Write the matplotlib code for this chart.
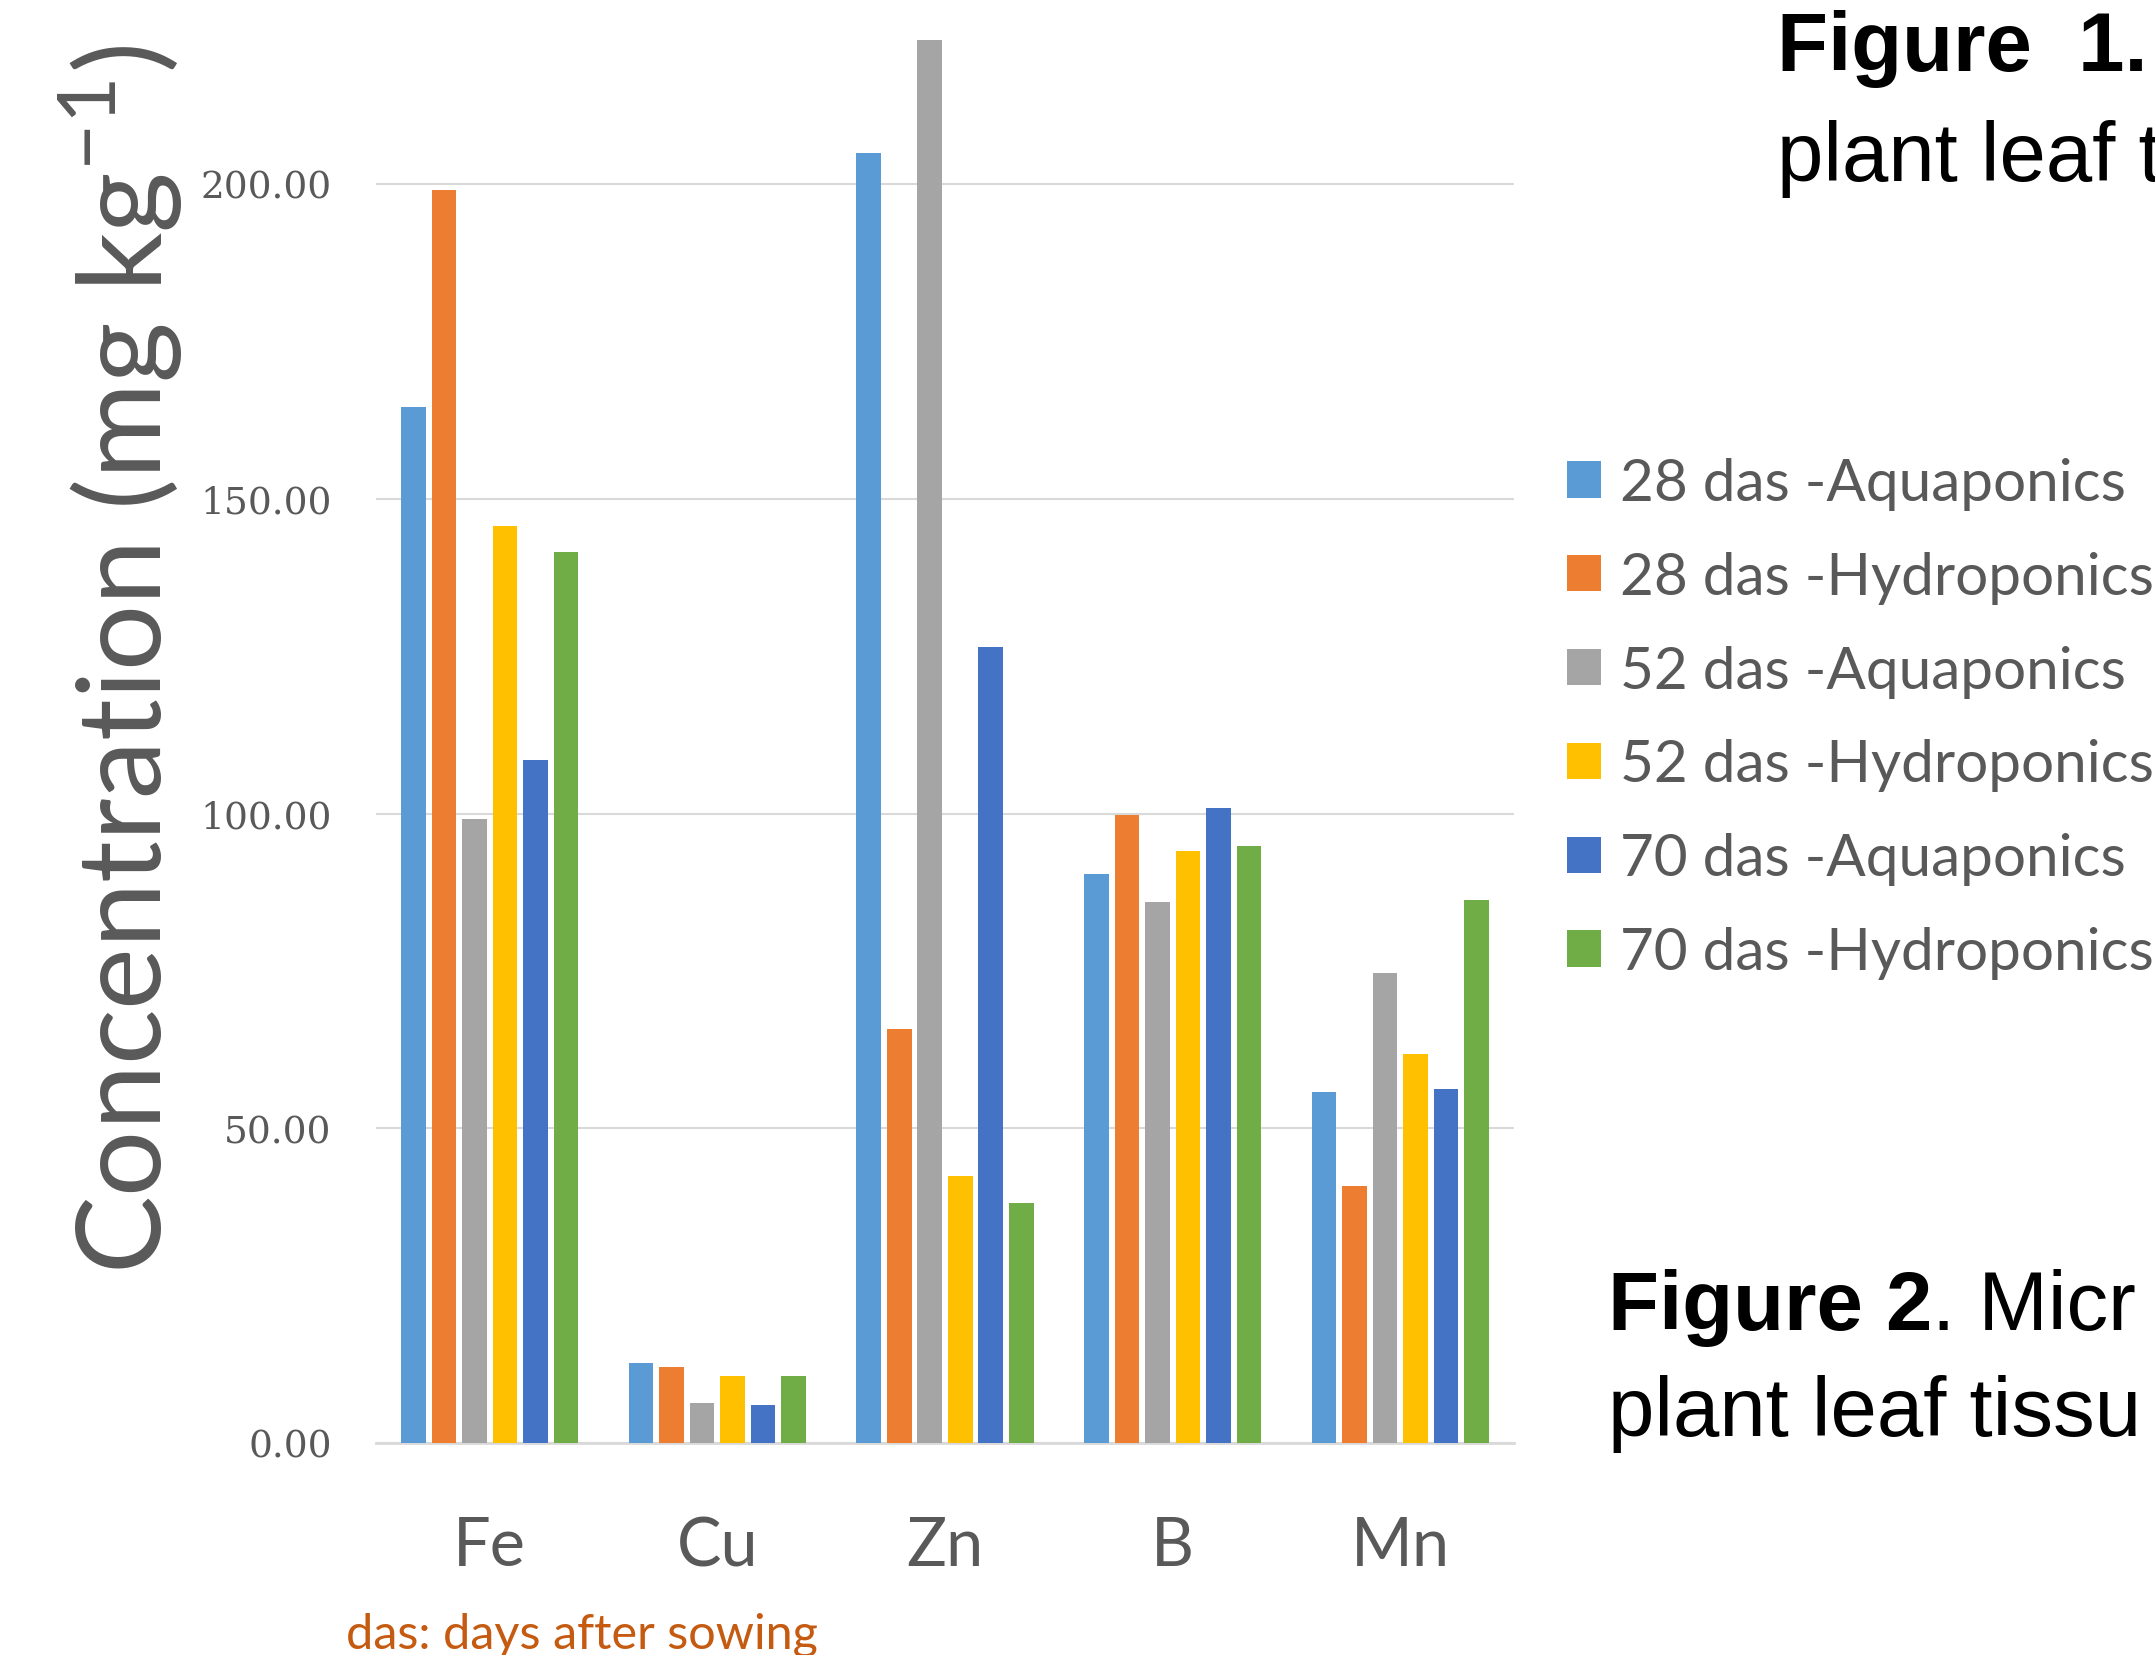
import matplotlib
matplotlib.use("Agg")
import matplotlib.pyplot as plt
import numpy as np

# micronutrients in leaf tissue, mg/kg
elements = ["Fe", "Cu", "Zn", "B", "Mn"]
series_names = ["28 das -Aquaponics", "28 das -Hydroponics",
                "52 das -Aquaponics", "52 das -Hydroponics",
                "70 das -Aquaponics", "70 das -Hydroponics"]
aqua_28 = [164.6, 12.7, 205.0, 90.4, 55.7]
hydro_28 = [199.1, 12.0, 65.7, 99.8, 40.8]
aqua_52 = [99.1, 6.3, 222.9, 86.0, 74.7]
hydro_52 = [145.6, 10.7, 42.4, 94.1, 61.8]
aqua_70 = [108.5, 6.1, 126.4, 100.9, 56.3]
hydro_70 = [141.5, 10.7, 38.2, 94.8, 86.2]
yticks = [0, 50, 100, 150, 200]

series = [aqua_28, hydro_28, aqua_52, hydro_52, aqua_70, hydro_70]
colors = ["#5B9BD5", "#ED7D31", "#A5A5A5", "#FFC000", "#4472C4", "#70AD47"]
grey = "#595959"

plt.rcParams["mathtext.fontset"] = "custom"
plt.rcParams["mathtext.rm"] = "Lato"

W, H = 2155, 1656
fig = plt.figure(figsize=(W / 100, H / 100), dpi=100)
fig.patch.set_facecolor("white")

# axes placed in pixel terms
left, right, bottom, top = 376, 1514, 1444, 0
ax = fig.add_axes([left / W, 1 - bottom / H, (right - left) / W, (bottom - top) / H])

x = np.arange(len(elements))
pitch = 0.134
width = 0.108
for i, (vals, name, c) in enumerate(zip(series, series_names, colors)):
    ax.bar(x + (i - 2.5) * pitch, vals, width, color=c, label=name, zorder=3)

ax.set_xlim(-0.5, 4.5)
ax.set_ylim(0, (bottom - top) / 314.75 * 50)
ax.set_yticks(yticks)
ax.set_yticklabels(["%.2f" % v for v in yticks], fontsize=27, color=grey,
                   family="DejaVu Serif")
ax.set_xticks(x)
ax.set_xticklabels(elements, fontsize=48, color=grey, family="Lato")
ax.tick_params(axis="y", length=0, pad=32)
ax.tick_params(axis="x", length=0, pad=52)
ax.grid(axis="y", color="#D9D9D9", linewidth=1.5, zorder=0)
for s in ["left", "right", "top"]:
    ax.spines[s].set_visible(False)
ax.spines["bottom"].set_color("#D9D9D9")
ax.spines["bottom"].set_linewidth(2)
ax.set_facecolor("none")

fig.text(121 / W, 1 - 660 / H, r"Concentration (mg kg$^{\mathregular{-1}}$)",
         rotation=90, fontsize=84, color=grey, family="Lato",
         ha="center", va="center")

fig.text(346 / W, 1 - 1635 / H, "das: days after sowing", fontsize=35,
         color="#C55A11", family="Lato", ha="left", va="center")

leg = ax.legend(loc="upper left", bbox_to_anchor=(1567 / W, 1 - 458 / H),
                bbox_transform=fig.transFigure, frameon=False,
                prop={"family": "Lato", "size": 42},
                handlelength=0.58, handleheight=0.58, handletextpad=0.33,
                labelspacing=0.70, borderpad=0, borderaxespad=0)
for t in leg.get_texts():
    t.set_color(grey)

# captions from the surrounding slide, cut by the right edge as in the original
cap = dict(fontsize=60, family="Liberation Sans", color="black", va="baseline")
fig.text(1777 / W, 1 - 71 / H, "Figure  1.", fontweight="bold", **cap)
fig.text(1777 / W, 1 - 181 / H, "plant leaf t", **cap)
t2 = fig.text(1608 / W, 1 - 1330 / H, "Figure 2", fontweight="bold", **cap)
fig.canvas.draw()
bb = t2.get_window_extent()
fig.text(bb.x1 / W, 1 - 1330 / H, ". Micr", **cap)
fig.text(1608 / W, 1 - 1436 / H, "plant leaf tissu", **cap)

fig.savefig("out.png", dpi=100)
